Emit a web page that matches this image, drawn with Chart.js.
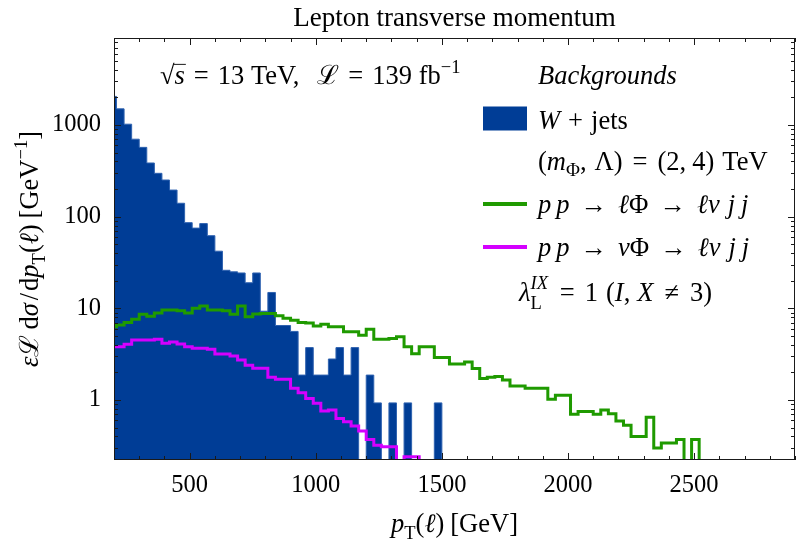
<!DOCTYPE html>
<html>
<head>
<meta charset="utf-8">
<script src="https://cdn.jsdelivr.net/npm/chart.js@4.4.0/dist/chart.umd.min.js"></script>
<style>
  html, body { margin: 0; padding: 0; background: #fff; }
</style>
</head>
<body>
<canvas id="grafico" width="806" height="551"></canvas>
<script>
// bins de 30 GeV, a partir de 180 GeV
const binEdges = Array.from({ length: 92 }, (_, i) => 180 + 30 * i);

// W + jets (fundo)
const wJets = [
  2050, 1500, 1020, 700, 570, 385, 297, 251, 195, 140,
  86, 75, 84, 62, 42, 26, 25, 24.3, 19, 24.3,
  9.3, 14.9, 6.5, 6.5, 5.6, 1.87, 3.73, 1.87, 1.87, 2.8,
  3.73, 1.87, 3.73, 0, 1.87, 0.93, 0, 0.93, 0, 0.93,
  0, 0, 0, 0.93
];

// pp -> l Phi -> l nu j j
const sinalLPhi = [
  6.3, 6.6, 7.0, 7.6, 8.6, 8.2, 8.9, 9.6, 9.6, 9.4,
  8.9, 10.0, 10.6, 9.6, 9.6, 9.4, 8.6, 10.6, 8.1, 8.7,
  8.8, 8.8, 8.3, 7.8, 7.4, 7.0, 6.9, 6.4, 6.7, 6.3,
  6.3, 5.55, 5.55, 5.1, 5.9, 4.6, 4.6, 4.7, 4.9, 3.8,
  3.2, 3.8, 3.8, 2.9, 2.9, 2.47, 2.47, 2.6, 2.2, 1.72,
  1.77, 1.8, 1.65, 1.42, 1.42, 1.34, 1.34, 1.34, 1.02, 1.13,
  1.13, 0.70, 0.75, 0.75, 0.70, 0.78, 0.71, 0.59, 0.53, 0.40,
  0.40, 0.65, 0.30, 0.34, 0.34, 0.37, 0, 0.37
];

// pp -> nu Phi -> l nu j j
const sinalNuPhi = [
  3.8, 3.8, 4.05, 4.5, 4.5, 4.5, 4.6, 4.15, 4.3, 4.08,
  3.8, 3.66, 3.66, 3.57, 3.17, 3.17, 3.02, 2.73, 2.4, 2.22,
  2.22, 1.77, 1.68, 1.68, 1.34, 1.2, 1.04, 0.92, 0.76, 0.78,
  0.63, 0.58, 0.52, 0.46, 0.37, 0.32, 0.31, 0.31, 0, 0.24,
  0.24
];

const xTicks = [500, 1000, 1500, 2000, 2500];
const yTicks = [1, 10, 100, 1000];

const AZUL = '#003d96';
const VERDE = '#1f9a00';
const MAGENTA = '#d400ff';
const SERIF = "'Liberation Serif', 'Times New Roman', 'DejaVu Serif', serif";
const PISO = 1e-3;

function histo(vals) {
  const pts = vals.map((v, i) => ({ x: binEdges[i], y: v > 0 ? v : PISO }));
  pts.push({ x: binEdges[vals.length], y: PISO });
  return pts;
}

// escreve pedaços de texto (italico, sub/sobrescrito) em sequencia
function texto(ctx, x, y, partes, tam) {
  partes.forEach(p => {
    if (p.g) { x += p.g; return; }
    const s = tam * (p.s || 1);
    ctx.font = (p.i ? 'italic ' : '') + s + 'px ' + SERIF;
    ctx.fillText(p.t, x, y + (p.dy || 0) * tam);
    if (!p.noAdv) x += ctx.measureText(p.t).width + (p.k || 0);
  });
  return x;
}

const molduraPlugin = {
  id: 'moldura',
  afterDraw(chart) {
    const ctx = chart.ctx;
    const a = chart.chartArea;
    const xs = chart.scales.x, ys = chart.scales.y;
    ctx.save();
    ctx.strokeStyle = '#1a1a1a';
    ctx.lineWidth = 1;
    ctx.strokeRect(a.left + 0.5, a.top + 0.5, a.right - a.left - 1, a.bottom - a.top - 1);
    ctx.beginPath();
    for (let v = 200; v <= 2900; v += 100) {
      const px = Math.round(xs.getPixelForValue(v)) + 0.5;
      const l = v % 500 === 0 ? 7 : 4;
      ctx.moveTo(px, a.bottom); ctx.lineTo(px, a.bottom - l);
      ctx.moveTo(px, a.top); ctx.lineTo(px, a.top + l);
    }
    for (let d = -1; d <= 3; d++) {
      for (let m = 1; m <= 9; m++) {
        const v = m * Math.pow(10, d);
        if (v < ys.min || v > ys.max) continue;
        const py = Math.round(ys.getPixelForValue(v)) + 0.5;
        const l = m === 1 ? 7 : 4;
        ctx.moveTo(a.left, py); ctx.lineTo(a.left + l, py);
        ctx.moveTo(a.right, py); ctx.lineTo(a.right - l, py);
      }
    }
    ctx.stroke();

    // textos
    ctx.fillStyle = '#000';
    ctx.textBaseline = 'alphabetic';
    const T = 26.5;

    // titulo
    ctx.font = '27px ' + SERIF;
    ctx.textAlign = 'center';
    ctx.fillText('Lepton transverse momentum', (a.left + a.right) / 2, 26);
    ctx.textAlign = 'left';

    // titulo eixo x
    const xt = [
      { t: 'p', i: true }, { t: 'T', s: 0.7, dy: 0.25 }, { t: '(' }, { t: 'ℓ', i: true }, { t: ')' }, { g: 6 }, { t: '[GeV]' }
    ];
    let w = texto(ctx, 0, -1000, xt, T);
    texto(ctx, (a.left + a.right) / 2 - w / 2, 532, xt, T);

    // titulo eixo y (rotacionado)
    const yt = [
      { t: 'ε', i: true }, { t: 'ℒ' }, { g: 5 }, { t: 'd' }, { t: 'σ', i: true }, { g: 3 }, { t: '/' }, { g: 2 }, { t: 'd' },
      { t: 'p', i: true }, { t: 'T', s: 0.7, dy: 0.25 }, { t: '(' }, { t: 'ℓ', i: true },
      { t: ')' }, { g: 6 }, { t: '[GeV' }, { t: '−1', s: 0.7, dy: -0.42 }, { t: ']' }
    ];
    w = texto(ctx, 0, -1000, yt, T);
    ctx.save();
    ctx.translate(38, (a.top + a.bottom) / 2);
    ctx.rotate(-Math.PI / 2);
    texto(ctx, -w / 2, 0, yt, T);
    ctx.restore();

    // sqrt(s) e luminosidade
    let x = texto(ctx, 160, 84, [{ t: '√' }], T);
    const xs0 = x;
    x = texto(ctx, x, 84, [{ t: 's', i: true }], T);
    ctx.beginPath();
    ctx.moveTo(xs0 - 1, 84 - 0.74 * T); ctx.lineTo(x + 1, 84 - 0.74 * T);
    ctx.stroke();
    texto(ctx, x, 84, [
      { g: 9 }, { t: '=' }, { g: 9 }, { t: '13 TeV,' }, { g: 18 }, { t: 'ℒ' }, { g: 9 }, { t: '=' }, { g: 9 },
      { t: '139 fb' }, { t: '−1', s: 0.7, dy: -0.42 }
    ], T);

    // legenda
    const lx = 538;
    texto(ctx, lx, 84, [{ t: 'Backgrounds', i: true }], T);
    ctx.fillStyle = AZUL;
    ctx.fillRect(483, 106.5, 44, 24);
    ctx.fillStyle = '#000';
    texto(ctx, lx, 129, [{ t: 'W', i: true }, { g: 8 }, { t: '+' }, { g: 8 }, { t: 'jets' }], T);
    texto(ctx, lx, 170, [
      { t: '(' }, { t: 'm', i: true }, { t: 'Φ', s: 0.72, dy: 0.22 }, { t: ',' }, { g: 8 }, { t: 'Λ)' },
      { g: 10 }, { t: '=' }, { g: 10 }, { t: '(2,' }, { g: 6 }, { t: '4)' }, { g: 8 }, { t: 'TeV' }
    ], T);
    ctx.lineWidth = 4;
    ctx.strokeStyle = VERDE;
    ctx.beginPath(); ctx.moveTo(483, 204); ctx.lineTo(527, 204); ctx.stroke();
    ctx.strokeStyle = MAGENTA;
    ctx.beginPath(); ctx.moveTo(483, 247); ctx.lineTo(527, 247); ctx.stroke();
    const proc = (ini) => [
      { t: 'p', i: true }, { g: 5 }, { t: 'p', i: true }, { g: 11 }, { t: '→' }, { g: 11 }, ini, { t: 'Φ' },
      { g: 11 }, { t: '→' }, { g: 11 }, { t: 'ℓν', i: true }, { g: 8 }, { t: 'j', i: true }, { g: 6 }, { t: 'j', i: true }
    ];
    texto(ctx, lx, 213, proc({ t: 'ℓ', i: true }), T);
    texto(ctx, lx, 256, proc({ t: 'ν', i: true }), T);
    texto(ctx, 519, 301, [
      { t: 'λ', i: true }, { t: 'IX', i: true, s: 0.7, dy: -0.45, noAdv: true },
      { t: 'L', s: 0.7, dy: 0.3, k: 8 }, { g: 10 }, { t: '=' }, { g: 10 }, { t: '1' }, { g: 8 }, { t: '(' },
      { t: 'I', i: true }, { t: ',' }, { g: 7 }, { t: 'X', i: true }, { g: 11 }, { t: '≠' }, { g: 11 }, { t: '3)' }
    ], T);
    ctx.restore();
  }
};

new Chart(document.getElementById('grafico'), {
  type: 'line',
  data: {
    datasets: [
      { data: histo(sinalNuPhi), stepped: 'before', borderColor: MAGENTA, borderWidth: 3, pointRadius: 0, fill: false, clip: 0 },
      { data: histo(sinalLPhi), stepped: 'before', borderColor: VERDE, borderWidth: 3, pointRadius: 0, fill: false, clip: 0 },
      { data: histo(wJets), stepped: 'before', borderColor: '#2f63b0', borderWidth: 1, backgroundColor: AZUL, pointRadius: 0, fill: 'start', clip: 0 }
    ]
  },
  options: {
    responsive: false,
    animation: false,
    layout: { padding: { left: 0, right: 11, top: 38, bottom: 0 } },
    plugins: { legend: { display: false }, tooltip: { enabled: false }, title: { display: false } },
    scales: {
      x: {
        type: 'linear', min: 200, max: 2900,
        grid: { display: false, drawTicks: false }, border: { display: false },
        afterBuildTicks: s => { s.ticks = xTicks.map(v => ({ value: v })); },
        afterFit: s => { s.height = 91; },
        ticks: { color: '#000', padding: 11, font: { family: SERIF, size: 24.5 }, maxRotation: 0, autoSkip: false, callback: v => String(v) }
      },
      y: {
        type: 'logarithmic', min: 0.2216, max: 8890,
        grid: { display: false, drawTicks: false }, border: { display: false },
        afterBuildTicks: s => { s.ticks = yTicks.map(v => ({ value: v })); },
        afterFit: s => { s.width = 114; },
        ticks: { color: '#000', padding: 13, font: { family: SERIF, size: 24.5 }, autoSkip: false, callback: v => String(v) }
      }
    }
  },
  plugins: [molduraPlugin]
});
</script>
</body>
</html>
